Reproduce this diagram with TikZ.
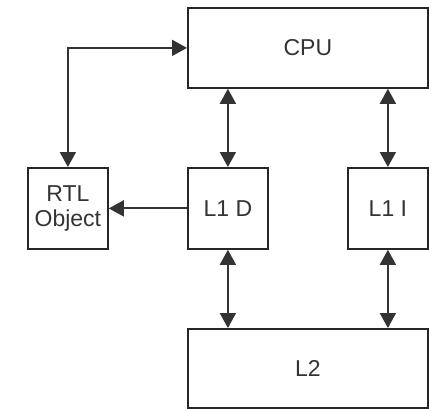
\documentclass[tikz,border=0pt]{standalone}
\usepackage{fontspec}
\setmainfont{Liberation Sans}
\usetikzlibrary{arrows.meta}
\begin{document}
\begin{tikzpicture}[x=1pt,y=-1pt,
  box/.style={draw=black!85,line width=1.8pt,inner sep=0pt,anchor=north west,font=\fontsize{23}{25}\selectfont,text=black!80,align=center},
  conn/.style={line width=1.9pt,draw=black!80,{Triangle[length=15pt,width=16pt]}-{Triangle[length=15pt,width=16pt]}},
  oneway/.style={line width=1.9pt,draw=black!80,-{Triangle[length=15pt,width=16pt]}}]
\useasboundingbox (0,0) rectangle (429,408);
\node[box,minimum width=240pt,minimum height=80pt] (cpu) at (187,7) {CPU};
\node[box,minimum width=80pt,minimum height=81pt] (rtl) at (27,167) {RTL\\Object};
\node[box,minimum width=80pt,minimum height=81pt] (l1d) at (187,167) {L1 D};
\node[box,minimum width=80pt,minimum height=81pt] (l1i) at (347,167) {L1 I};
\node[box,minimum width=240pt,minimum height=79pt] (l2) at (187,328) {L2};
\draw[conn] (cpu.west) -| (rtl.north);
\draw[oneway] (l1d.west) -- (rtl.east);
\draw[conn] (cpu.south -| l1d.north) -- (l1d.north);
\draw[conn] (cpu.south -| l1i.north) -- (l1i.north);
\draw[conn] (l1d.south) -- (l2.north -| l1d.south);
\draw[conn] (l1i.south) -- (l2.north -| l1i.south);
\end{tikzpicture}
\end{document}
